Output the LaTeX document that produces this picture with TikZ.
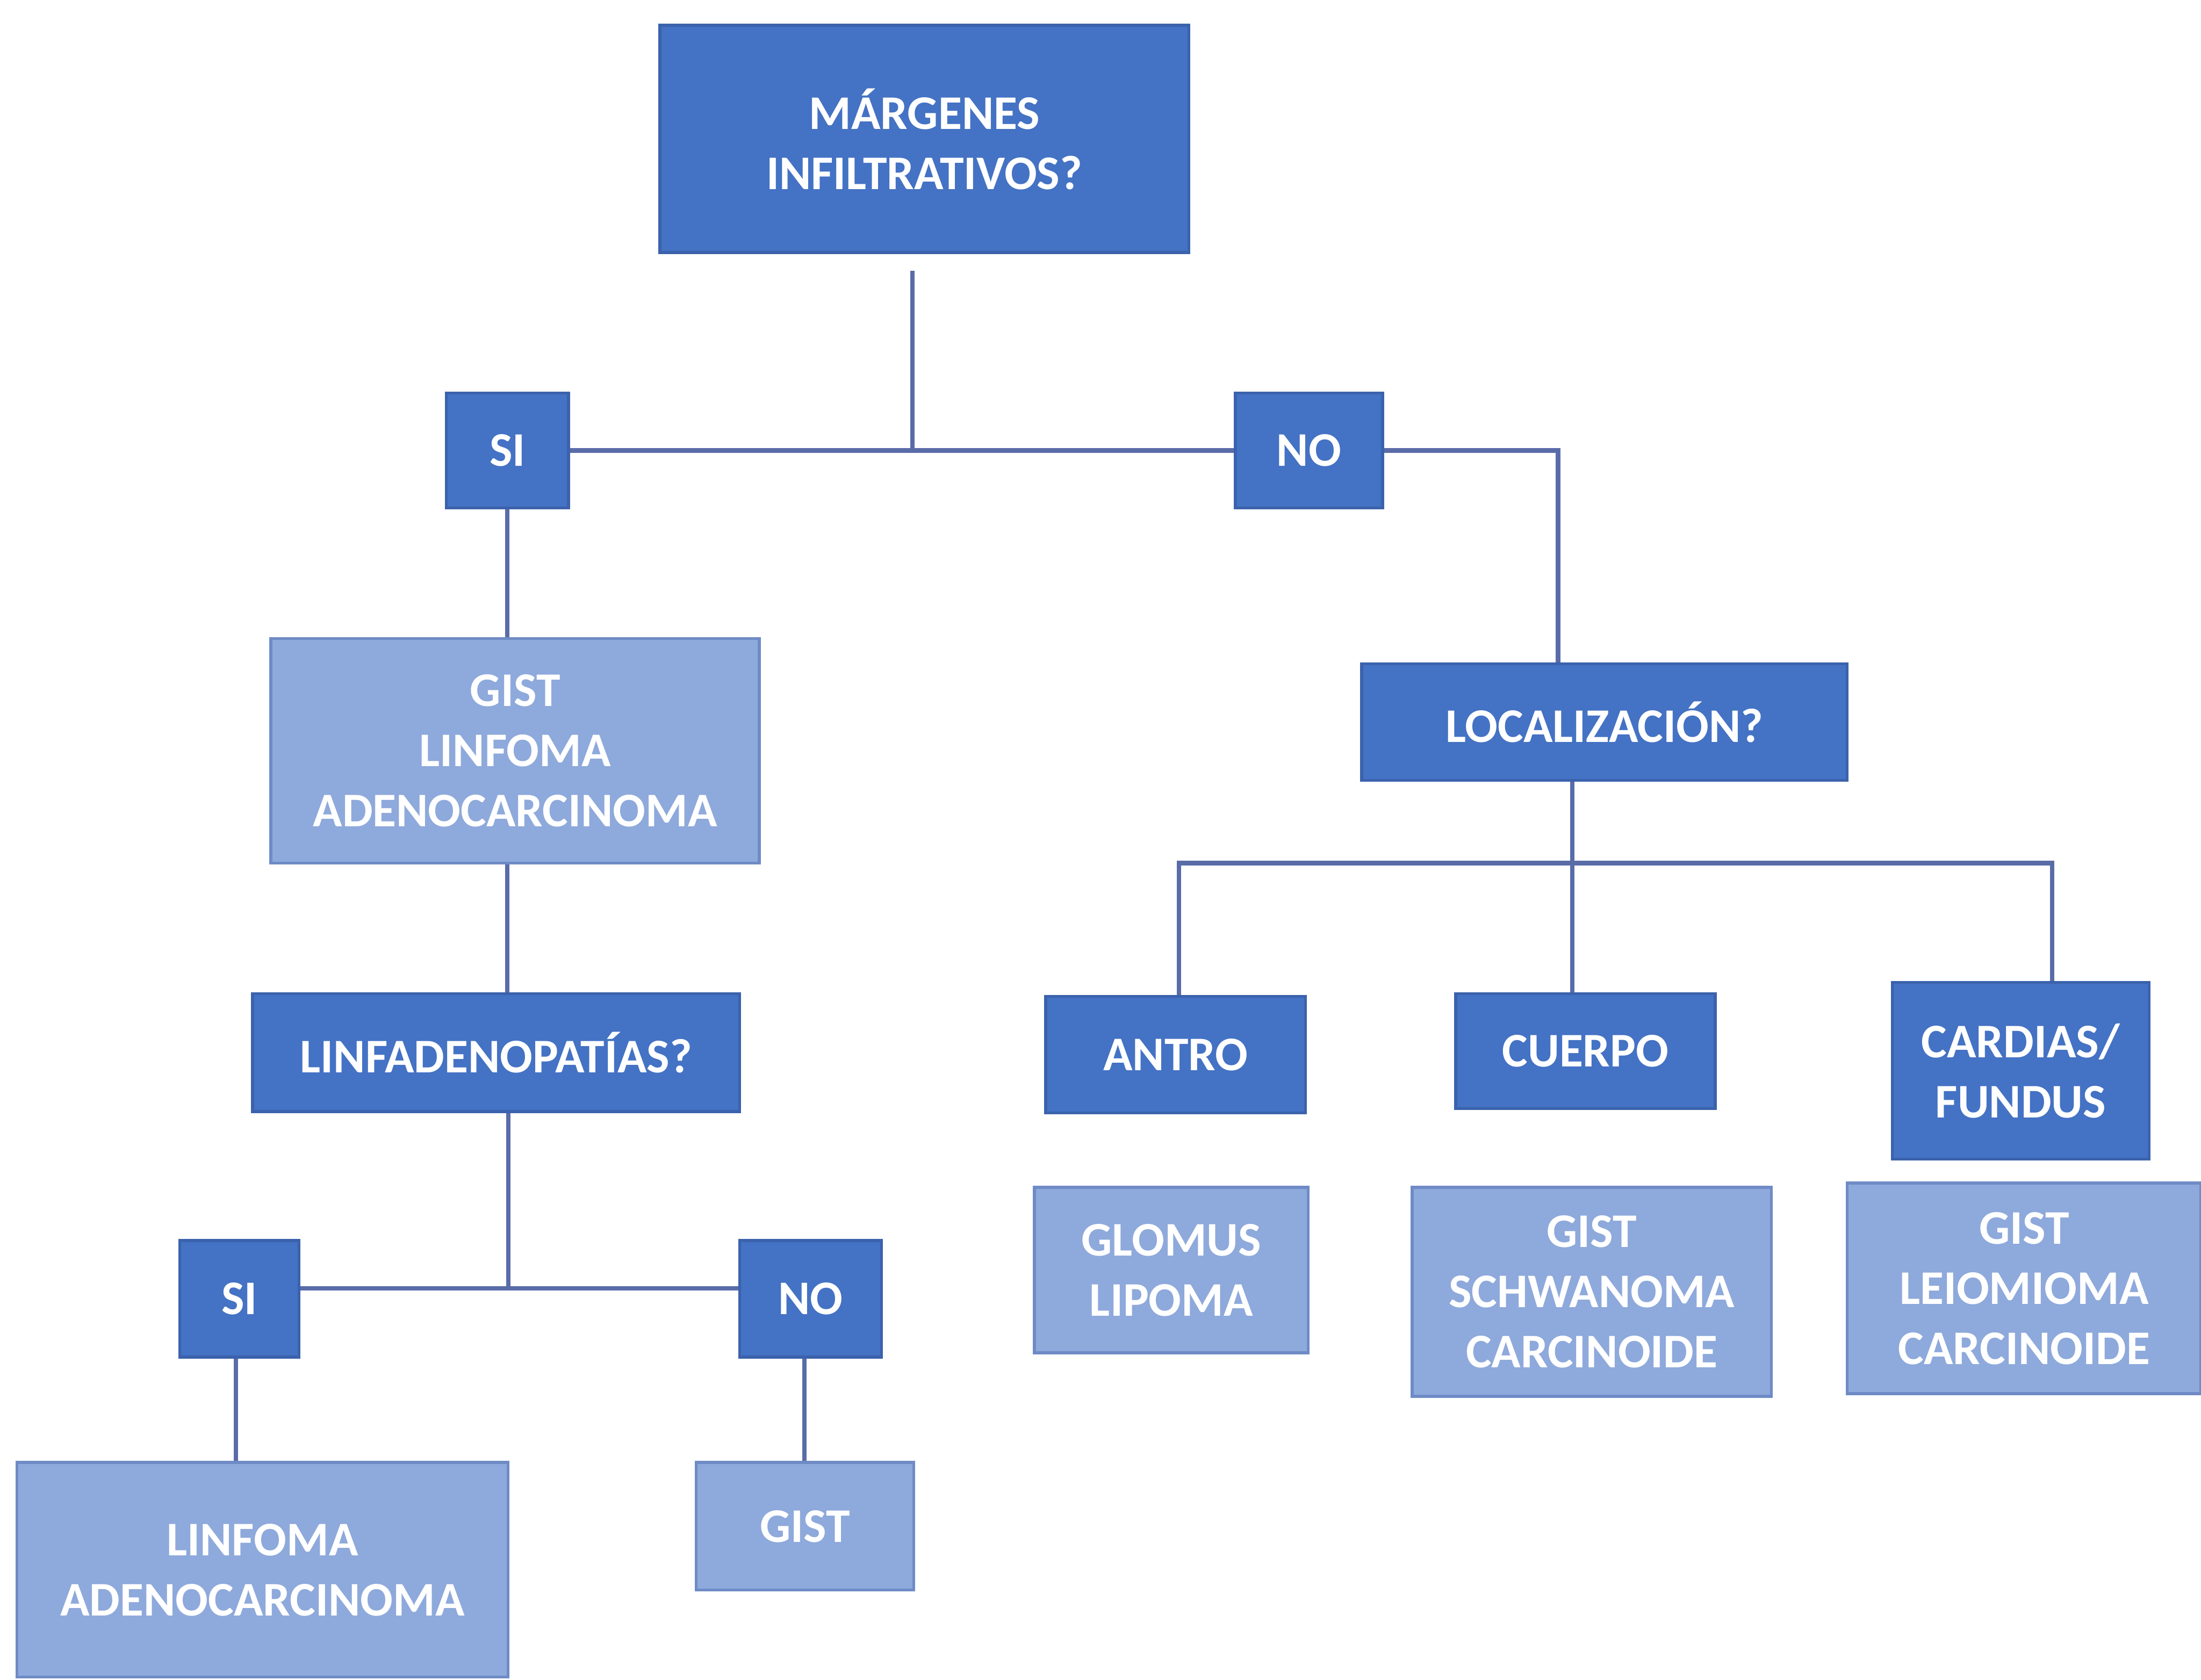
\documentclass[tikz,border=0pt]{standalone}
\usepackage{fontspec}
\setmainfont{Carlito}
\usepackage{xcolor}
\usepackage{tikz}
\usetikzlibrary{positioning}
\definecolor{darkbox}{HTML}{4472C4}
\definecolor{darkedge}{HTML}{3B62AC}
\definecolor{lightbox}{HTML}{8EA9DB}
\definecolor{lightedge}{HTML}{6F8BC6}
\definecolor{linkcol}{HTML}{5A6CA8}
\tikzset{
  question/.style={rectangle,draw=darkedge,fill=darkbox,line width=0.6pt,
    text=white,align=center,inner sep=1pt,
    font=\bfseries\fontsize{9.8}{12.2}\selectfont},
  result/.style={rectangle,draw=lightedge,fill=lightbox,line width=0.6pt,
    text=white,align=center,inner sep=1pt,
    font=\bfseries\fontsize{9.8}{12.2}\selectfont},
  link/.style={draw=linkcol,line width=0.9pt}
}

\begin{document}
\begin{tikzpicture}[x=0.1mm,y=-0.1mm]
\useasboundingbox (0,0) rectangle (1568,1197);
% first question
\node[question,minimum width=37.7mm,minimum height=16.2mm] (marg) at (658.5,99) {MÁRGENES\\INFILTRATIVOS?};
\node[question,minimum width=8.7mm,minimum height=8.2mm] (si) at (361.5,321) {SI};
\node[question,minimum width=10.5mm,minimum height=8.2mm] (no) at (932.5,321) {NO};
% left branch
\node[result,minimum width=34.8mm,minimum height=16mm] (diffa) at (367,535) {GIST\\LINFOMA\\ADENOCARCINOMA};
\node[question,minimum width=34.7mm,minimum height=8.4mm] (linf) at (353.5,750) {LINFADENOPATÍAS?};
\node[question,minimum width=8.5mm,minimum height=8.3mm] (lsi) at (170.5,925.5) {SI};
\node[question,minimum width=10.1mm,minimum height=8.3mm] (lno) at (577.5,925.5) {NO};
\node[result,minimum width=35mm,minimum height=15.3mm] (diffb) at (187,1118.5) {LINFOMA\\ADENOCARCINOMA};
\node[result,minimum width=15.5mm,minimum height=9.1mm] (diffc) at (573.5,1087.5) {GIST};
% right branch
\node[question,minimum width=34.6mm,minimum height=8.3mm] (loc) at (1143,514.5) {LOCALIZACIÓN?};
\node[question,minimum width=18.5mm,minimum height=8.3mm] (antro) at (837.5,751.5) {ANTRO};
\node[question,minimum width=18.5mm,minimum height=8.2mm] (cuerpo) at (1129.5,749) {CUERPO};
\node[question,minimum width=18.3mm,minimum height=12.6mm] (cardias) at (1439.5,763) {CARDIAS/\\FUNDUS};
\node[result,minimum width=19.5mm,minimum height=11.8mm] (diffd) at (834.5,905) {GLOMUS\\LIPOMA};
\node[result,minimum width=25.6mm,minimum height=14.9mm] (diffe) at (1134,920.5) {GIST\\SCHWANOMA\\CARCINOIDE};
\node[result,minimum width=25.2mm,minimum height=15mm] (difff) at (1442,918) {GIST\\LEIOMIOMA\\CARCINOIDE};
% junctions
\coordinate (j1) at (650,321);
\coordinate (j2) at (362,918);
\coordinate (j3) at (1120,615);
\coordinate (jno) at (1110,321);
% connectors
\draw[link,shorten <=1.2mm] (marg.south -| j1) -- (j1);
\draw[link] (si.east) -- (no.west);
\draw[link] (no.east) -| (loc.north -| jno);
\draw[link] (si.south) -- (diffa.north -| si);
\draw[link] (si |- diffa.south) -- (si |- linf.north);
\draw[link] (linf.south -| j2) -- (j2);
\draw[link] (lsi.east |- j2) -- (lno.west |- j2);
\draw[link] ([xshift=-0.25mm]lsi.south) -- ([xshift=-0.25mm]lsi.south |- diffb.north);
\draw[link] ([xshift=-0.45mm]lno.south) -- ([xshift=-0.45mm]lno.south |- diffc.north);
\draw[link] (loc.south -| j3) -- (cuerpo.north -| j3);
\draw[link] ([xshift=0.25mm]antro.north) |- (j3) -| ([xshift=2.25mm]cardias.north);
\end{tikzpicture}
\end{document}
